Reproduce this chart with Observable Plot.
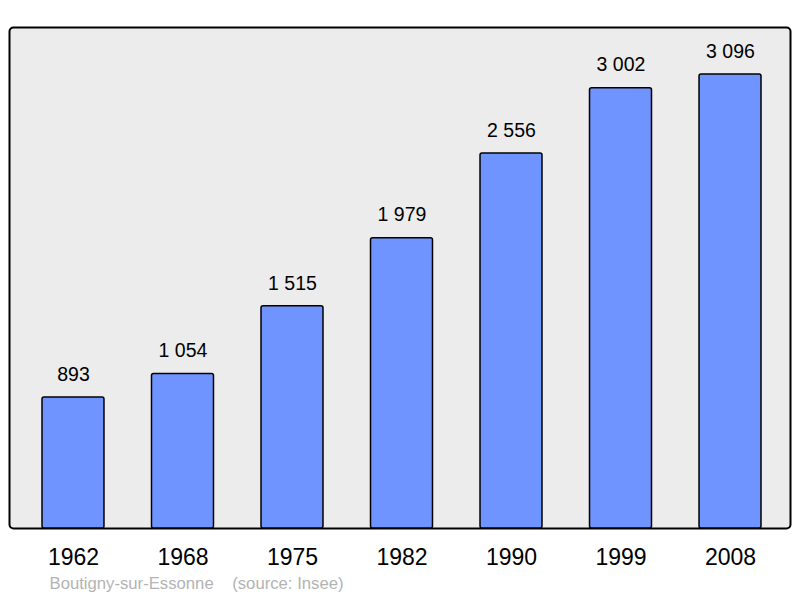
<!DOCTYPE html>
<html>
<head>
<meta charset="utf-8">
<script src="https://cdn.jsdelivr.net/npm/d3@7"></script>
<script src="https://cdn.jsdelivr.net/npm/@observablehq/plot@0.6"></script>
<style>
  html, body { margin: 0; padding: 0; background: #fff; }
  svg { font-family: "Liberation Sans", Arial, sans-serif; }
</style>
</head>
<body>
<div id="chart"></div>
<script>
const years = ["1962", "1968", "1975", "1982", "1990", "1999", "2008"];
const population = [893, 1054, 1515, 1979, 2556, 3002, 3096];
const caption = ["Boutigny-sur-Essonne    (source: Insee)"];

const data = years.map((y, i) => ({year: y, pop: population[i]}));
const fr = d3.formatLocale({decimal: ",", thousands: "\u00a0", grouping: [3]}).format(",d");

const chart = Plot.plot({
  width: 800,
  height: 598,
  marginLeft: 9,
  marginRight: 10,
  marginTop: 0,
  marginBottom: 70,
  style: {background: "white", fontFamily: "Liberation Sans, Arial, sans-serif"},
  x: {domain: years, range: [42, 761], paddingInner: 0.434, paddingOuter: 0, round: false, label: null},
  y: {domain: [0, 3600], range: [528, 0], axis: null},
  marks: [
    Plot.frame({insetTop: 27, fill: "#ececec", stroke: "#000", strokeWidth: 2, rx: 4}),
    Plot.barY(data, {x: "year", y: "pop", fill: "#7094ff", stroke: "#000", strokeWidth: 1.5, rx: 2}),
    Plot.text(data, {x: "year", y: "pop", text: d => fr(d.pop), dy: -23, fontSize: 19.5, fill: "#000"}),
    Plot.axisX({tickSize: 0, tickPadding: 20, fontSize: 23, color: "#000", label: null}),
    Plot.text(caption, {frameAnchor: "bottom-left", text: d => d, dx: 40, dy: 55, fontSize: 16.7, fill: "#b3b3b3", textAnchor: "start", lineAnchor: "middle"})
  ]
});
document.getElementById("chart").append(chart);
</script>
</body>
</html>
